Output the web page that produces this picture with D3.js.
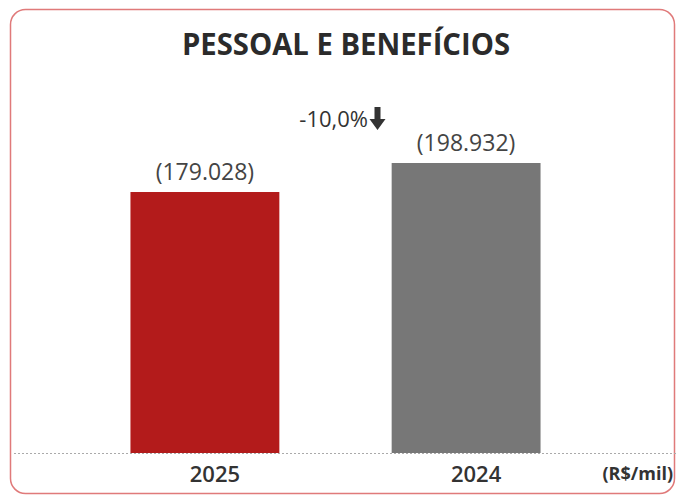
<!DOCTYPE html>
<html>
<head>
<meta charset="utf-8">
<script src="https://cdn.jsdelivr.net/npm/d3@7"></script>
<style>
  body { margin: 0; background: #fff; }
  text { font-family: "Open Sans", "Noto Sans", sans-serif; }
</style>
</head>
<body>
<svg id="chart"></svg>
<script>
const width = 678;
const height = 495;

// data
const years = ["2025", "2024"];
const values = [179028, 198932];
const valueLabels = ["(179.028)", "(198.932)"];
const barColors = ["#b31b1b", "#777777"];
const changeLabel = "-10,0%";

const svg = d3.select("#chart")
    .attr("width", width)
    .attr("height", height);

// moldura
svg.append("rect")
    .attr("x", 10.5).attr("y", 9.5)
    .attr("width", 664).attr("height", 484)
    .attr("rx", 15)
    .attr("fill", "#fff")
    .attr("stroke", "#e07a7a")
    .attr("stroke-width", 1.5);

svg.append("text")
    .text("PESSOAL E BENEFÍCIOS")
    .attr("x", 182).attr("y", 55)
    .attr("font-size", 30)
    .attr("font-weight", "bold")
    .attr("textLength", 328)
    .attr("lengthAdjust", "spacingAndGlyphs")
    .attr("fill", "#2b2b2b");

const x = d3.scaleBand()
    .domain(years)
    .range([73, 598])
    .paddingInner(0.43)
    .paddingOuter(0.22);

const y = d3.scaleLinear()
    .domain([0, 198932])
    .range([453, 163]);

svg.selectAll(".bar")
    .data(years)
    .enter()
    .append("rect")
    .attr("class", "bar")
    .attr("x", d => x(d))
    .attr("y", (d, i) => y(values[i]))
    .attr("width", x.bandwidth())
    .attr("height", (d, i) => y(0) - y(values[i]))
    .attr("fill", (d, i) => barColors[i]);

svg.append("line")
    .attr("x1", 14).attr("x2", width)
    .attr("y1", y(0) + 0.5).attr("y2", y(0) + 0.5)
    .attr("stroke", "#aaa")
    .attr("stroke-dasharray", "2,2");

svg.selectAll(".vlabel")
    .data(years)
    .enter()
    .append("text")
    .attr("class", "vlabel")
    .attr("x", d => x(d) + x.bandwidth() / 2)
    .attr("y", (d, i) => y(values[i]) - 12)
    .attr("text-anchor", "middle")
    .attr("font-size", 23)
    .attr("fill", "#444")
    .text((d, i) => valueLabels[i]);

svg.selectAll(".year")
    .data(years)
    .enter()
    .append("text")
    .attr("class", "year")
    .attr("x", d => x(d) + x.bandwidth() / 2 + 10)
    .attr("y", 482)
    .attr("text-anchor", "middle")
    .attr("font-size", 22)
    .attr("font-weight", 600)
    .attr("fill", "#333")
    .text(d => d);

svg.append("text")
    .text("(R$/mil)")
    .attr("x", 673).attr("y", 480)
    .attr("text-anchor", "end")
    .attr("font-size", 18)
    .attr("font-weight", "bold")
    .attr("fill", "#333");

// variação
svg.append("text")
    .text(changeLabel)
    .attr("x", 368).attr("y", 127)
    .attr("text-anchor", "end")
    .attr("font-size", 22)
    .attr("fill", "#333");

svg.append("path")
    .attr("d", "M374.5,107 h6 v12 h5 l-8,11 l-8,-11 h5 z")
    .attr("fill", "#333");
</script>
</body>
</html>
